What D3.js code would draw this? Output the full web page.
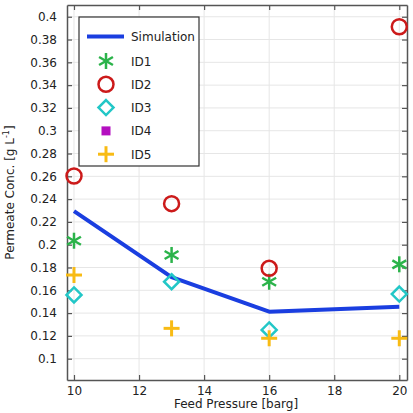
<!DOCTYPE html>
<html>
<head>
<meta charset="utf-8">
<script src="https://cdn.jsdelivr.net/npm/d3@7"></script>
<style>
  body { margin: 0; background: #fff; }
  text { font-family: "DejaVu Sans", sans-serif; fill: #222; }
</style>
</head>
<body>
<svg id="chart"></svg>
<script>
// data
const simPressure = [10, 13, 16, 20];
const simConc = [0.2295, 0.1715, 0.1412, 0.1456];
const pressure = [10, 13, 16, 20];
const id1 = [0.2035, 0.191, 0.1675, 0.1828];
const id2 = [0.2603, 0.236, 0.1793, 0.3912];
const id3 = [0.1559, 0.1675, 0.1252, 0.1567];
const id4 = [];
const id5 = [0.1734, 0.1266, 0.1179, 0.1179];
const xTicks = [10, 12, 14, 16, 18, 20];
const yTicks = [0.1, 0.12, 0.14, 0.16, 0.18, 0.2, 0.22, 0.24, 0.26, 0.28, 0.3, 0.32, 0.34, 0.36, 0.38, 0.4];

const width = 413, height = 413;
const margin = {top: 5, right: 6, bottom: 33, left: 67};

const svg = d3.select('#chart')
    .attr('width', width)
    .attr('height', height);

const x = d3.scaleLinear()
    .domain([9.785, 20.237])
    .range([margin.left, width - margin.right]);
const y = d3.scaleLinear()
    .domain([0.0813, 0.4103])
    .range([height - margin.bottom, margin.top]);

// grid
svg.append('g').selectAll('line.gx')
    .data(xTicks).enter().append('line')
    .attr('x1', d => x(d)).attr('x2', d => x(d))
    .attr('y1', margin.top).attr('y2', height - margin.bottom)
    .attr('stroke', '#e6e6e6').attr('stroke-width', 1);
svg.append('g').selectAll('line.gy')
    .data(yTicks).enter().append('line')
    .attr('x1', margin.left).attr('x2', width - margin.right)
    .attr('y1', d => y(d)).attr('y2', d => y(d))
    .attr('stroke', '#e6e6e6').attr('stroke-width', 1);

// axes, ticks pointing inward on all sides
const fmt = d => d3.format('')(+d.toFixed(2));
const axisStyle = g => {
    g.select('.domain').attr('stroke', '#555').attr('stroke-width', 1.5);
    g.selectAll('.tick line').attr('stroke', '#555').attr('stroke-width', 1.2);
    g.selectAll('.tick text').style('font-size', '12px').attr('fill', '#222');
};
svg.append('g')
    .attr('transform', `translate(0,${height - margin.bottom})`)
    .call(d3.axisBottom(x).tickValues(xTicks).tickSizeInner(-5).tickSizeOuter(0).tickPadding(6))
    .call(axisStyle);
svg.append('g')
    .attr('transform', `translate(0,${margin.top})`)
    .call(d3.axisTop(x).tickValues(xTicks).tickSizeInner(-5).tickSizeOuter(0).tickFormat(''))
    .call(axisStyle);
svg.append('g')
    .attr('transform', `translate(${margin.left},0)`)
    .call(d3.axisLeft(y).tickValues(yTicks).tickSizeInner(-5).tickSizeOuter(0).tickPadding(10).tickFormat(fmt))
    .call(axisStyle);
svg.append('g')
    .attr('transform', `translate(${width - margin.right},0)`)
    .call(d3.axisRight(y).tickValues(yTicks).tickSizeInner(-5).tickSizeOuter(0).tickFormat(''))
    .call(axisStyle);

// axis labels
svg.append('text')
    .attr('x', (margin.left + width - margin.right) / 2 - 1)
    .attr('y', height - 5)
    .attr('text-anchor', 'middle')
    .style('font-size', '12px')
    .text('Feed Pressure [barg]');
const yl = svg.append('text')
    .attr('transform', `translate(14,${(margin.top + height - margin.bottom) / 2}) rotate(-90)`)
    .attr('text-anchor', 'middle')
    .style('font-size', '12px');
yl.append('tspan').text('Permeate Conc. [g L');
yl.append('tspan').attr('dy', -5).style('font-size', '8px').text('-1');
yl.append('tspan').attr('dy', 5).text(']');

// simulation line
const line = d3.line().x(d => x(d[0])).y(d => y(d[1]));
svg.append('path')
    .datum(d3.zip(simPressure, simConc))
    .attr('d', line)
    .attr('fill', 'none')
    .attr('stroke', '#1a3ee0')
    .attr('stroke-width', 4)
    .attr('stroke-linejoin', 'round');

// marker drawers
const markers = {
    asterisk: (g, c) => {
        const r = 8;
        [0, 60, 120].forEach(a => {
            const t = a * Math.PI / 180;
            g.append('line')
                .attr('x1', -r * Math.sin(t)).attr('y1', -r * Math.cos(t))
                .attr('x2', r * Math.sin(t)).attr('y2', r * Math.cos(t))
                .attr('stroke', c).attr('stroke-width', 2.5);
        });
    },
    circle: (g, c) => g.append('circle').attr('r', 7.5)
        .attr('fill', 'none').attr('stroke', c).attr('stroke-width', 2.5),
    diamond: (g, c) => g.append('path').attr('d', 'M0,-7.5L7.5,0L0,7.5L-7.5,0Z')
        .attr('fill', 'none').attr('stroke', c).attr('stroke-width', 2.5),
    square: (g, c) => g.append('rect').attr('x', -4.5).attr('y', -4.5)
        .attr('width', 9).attr('height', 9).attr('fill', c),
    plus: (g, c) => {
        g.append('line').attr('x1', -8).attr('x2', 8).attr('stroke', c).attr('stroke-width', 3);
        g.append('line').attr('y1', -8).attr('y2', 8).attr('stroke', c).attr('stroke-width', 3);
    }
};

const series = [
    {name: 'ID1', values: id1, marker: 'asterisk', color: '#2bb34a'},
    {name: 'ID2', values: id2, marker: 'circle', color: '#cc1a1a'},
    {name: 'ID3', values: id3, marker: 'diamond', color: '#22c7c7'},
    {name: 'ID4', values: id4, marker: 'square', color: '#b40fc0'},
    {name: 'ID5', values: id5, marker: 'plus', color: '#f8bb14'}
];

series.forEach(s => {
    svg.append('g').selectAll('g')
        .data(s.values.map((v, i) => [pressure[i], v]))
        .enter().append('g')
        .attr('transform', d => `translate(${x(d[0])},${y(d[1])})`)
        .each(function() { markers[s.marker](d3.select(this), s.color); });
});

// legend
const legend = svg.append('g').attr('transform', 'translate(79,17)');
legend.append('rect')
    .attr('width', 120).attr('height', 149)
    .attr('fill', '#fff').attr('stroke', '#333').attr('stroke-width', 1.2);
legend.append('line')
    .attr('x1', 8).attr('x2', 45).attr('y1', 19.5).attr('y2', 19.5)
    .attr('stroke', '#1a3ee0').attr('stroke-width', 4);
legend.append('text').attr('x', 52).attr('y', 24).style('font-size', '12px').text('Simulation');
series.forEach((s, i) => {
    const cy = 44 + i * 23.3;
    const g = legend.append('g').attr('transform', `translate(27,${cy})`);
    markers[s.marker](g, s.color);
    legend.append('text').attr('x', 52).attr('y', cy + 4.5).style('font-size', '12px').text(s.name);
});
</script>
</body>
</html>
